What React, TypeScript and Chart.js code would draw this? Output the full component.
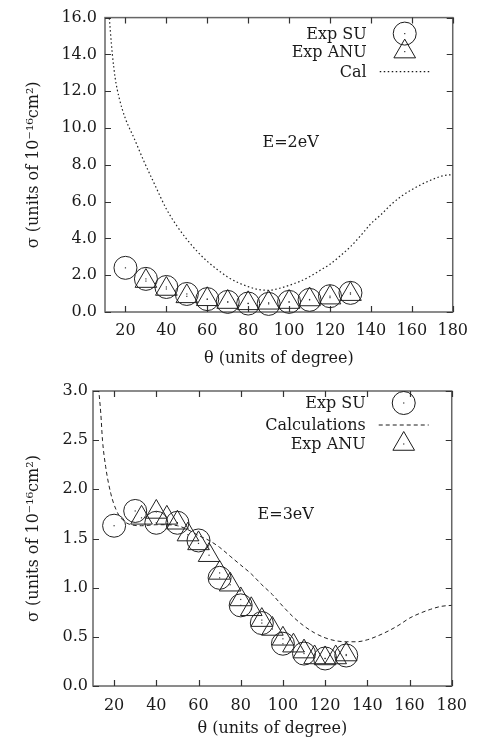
import React, { useEffect, useRef } from "react";
import { Chart, registerables } from "chart.js";

Chart.register(...registerables);

const FONT_FAMILY = "'DejaVu Serif', 'Liberation Serif', serif";
const INK = "#1a1a1a";
const FRAME = "#666666";

// ---------- Panel 1 : E=2eV ----------
const p1XTicks = [20, 40, 60, 80, 100, 120, 140, 160, 180];
const p1YTicks = [0, 2, 4, 6, 8, 10, 12, 14, 16];
const p1SuTheta = [20, 30, 40, 50, 60, 70, 80, 90, 100, 110, 120, 130];
const p1SuSigma = [2.4, 1.8, 1.36, 0.98, 0.7, 0.55, 0.46, 0.44, 0.55, 0.66, 0.86, 1.04];
const p1AnuTheta = [30, 40, 50, 60, 70, 80, 90, 100, 110, 120, 130];
const p1AnuSigma = [1.68, 1.25, 0.85, 0.69, 0.54, 0.47, 0.5, 0.54, 0.68, 0.78, 0.97];
const p1CalTheta = [11.8, 13.6, 15, 17, 20, 24, 29, 34, 40, 45, 50, 55, 60, 65, 70, 75, 80, 85, 90, 95, 100, 105, 110, 115, 120, 125, 130, 135, 140, 145, 150, 155, 160, 165, 170, 175, 180];
const p1CalSigma = [16.4, 14.0, 12.7, 11.6, 10.5, 9.5, 8.2, 7.0, 5.6, 4.7, 3.95, 3.3, 2.75, 2.3, 1.9, 1.6, 1.38, 1.22, 1.18, 1.28, 1.45, 1.65, 1.92, 2.25, 2.6, 3.05, 3.55, 4.15, 4.8, 5.3, 5.85, 6.3, 6.65, 6.95, 7.2, 7.4, 7.47];

// ---------- Panel 2 : E=3eV ----------
const p2XTicks = [20, 40, 60, 80, 100, 120, 140, 160, 180];
const p2YTicks = [0, 0.5, 1, 1.5, 2, 2.5, 3];
const p2SuTheta = [20, 30, 40, 50, 60, 70, 80, 90, 100, 110, 120, 130];
const p2SuSigma = [1.63, 1.78, 1.66, 1.66, 1.48, 1.1, 0.82, 0.64, 0.43, 0.33, 0.28, 0.31];
const p2AnuTheta = [33, 40, 45, 50, 55, 60, 65, 70, 75, 80, 85, 90, 95, 100, 105, 110, 115, 120, 125, 130];
const p2AnuSigma = [1.71, 1.77, 1.71, 1.66, 1.54, 1.45, 1.33, 1.15, 1.03, 0.88, 0.78, 0.67, 0.58, 0.48, 0.41, 0.35, 0.29, 0.28, 0.29, 0.32];
const p2CalTheta = [12.3, 13.7, 14.5, 16, 18.4, 21, 24, 28, 33, 40, 45, 50, 55, 60, 65, 70, 75, 80, 85, 90, 95, 100, 105, 110, 115, 120, 125, 130, 135, 140, 145, 150, 155, 160, 165, 170, 175, 180];
const p2CalSigma = [3.1, 2.77, 2.5, 2.23, 1.96, 1.79, 1.69, 1.64, 1.63, 1.64, 1.64, 1.63, 1.59, 1.53, 1.48, 1.41, 1.32, 1.23, 1.14, 1.03, 0.93, 0.81, 0.7, 0.61, 0.54, 0.49, 0.46, 0.45, 0.45, 0.47, 0.51, 0.56, 0.62, 0.69, 0.74, 0.78, 0.81, 0.82];

const X_TITLE = "θ (units of degree)";
const Y_TITLE = "σ (units of 10⁻¹⁶cm²)";

type LegendRow = { text: string; kind: "circle" | "triangle" | "line"; dy: number };

type PanelCfg = {
  width: number;
  height: number;
  xTicks: number[];
  yTicks: number[];
  yMax: number;
  suTheta: number[];
  suSigma: number[];
  anuTheta: number[];
  anuSigma: number[];
  calTheta: number[];
  calSigma: number[];
  calDash: number[];
  calWidth: number;
  legend: LegendRow[];
  label: string;
  labelX: number;
  labelY: number;
  yAxisWidth: number;
  xAxisHeight: number;
  padTop: number;
  padRight: number;
  yTickPad: number;
  xTickPad: number;
  xTitlePad: number;
  yTitlePad: number;
};

const FONT_SIZE = 16;
const CIRCLE_R = 11.5;
const TRI_R = 12.5;

function drawTriangle(ctx: CanvasRenderingContext2D, x: number, y: number, r: number) {
  ctx.beginPath();
  let a = 0;
  ctx.moveTo(x + Math.sin(a) * r, y - Math.cos(a) * r);
  a += (2 * Math.PI) / 3;
  ctx.lineTo(x + Math.sin(a) * r, y - Math.cos(a) * r);
  a += (2 * Math.PI) / 3;
  ctx.lineTo(x + Math.sin(a) * r, y - Math.cos(a) * r);
  ctx.closePath();
  ctx.stroke();
}

function makePlugin(cfg: PanelCfg) {
  return {
    id: "gnuplotFrame",
    beforeDatasetsDraw(chart: any) {
      const { ctx, chartArea: a, scales } = chart;
      const x = scales.x;
      const y = scales.y;
      ctx.save();
      ctx.strokeStyle = FRAME;
      ctx.lineWidth = 1.5;
      ctx.strokeRect(a.left, a.top, a.right - a.left, a.bottom - a.top);
      ctx.lineWidth = 1.2;
      ctx.strokeStyle = "#333";
      ctx.beginPath();
      for (const v of cfg.xTicks) {
        const px = Math.round(x.getPixelForValue(v)) + 0.5;
        ctx.moveTo(px, a.bottom);
        ctx.lineTo(px, a.bottom - 6);
        ctx.moveTo(px, a.top);
        ctx.lineTo(px, a.top + 6);
      }
      for (const v of cfg.yTicks) {
        const py = Math.round(y.getPixelForValue(v)) + 0.5;
        ctx.moveTo(a.left, py);
        ctx.lineTo(a.left + 6, py);
        ctx.moveTo(a.right, py);
        ctx.lineTo(a.right - 6, py);
      }
      ctx.stroke();
      ctx.restore();
    },
    afterDatasetsDraw(chart: any) {
      const { ctx } = chart;
      ctx.save();
      ctx.fillStyle = "#333";
      chart.data.datasets.forEach((ds: any, i: number) => {
        if (!ds.centerDot) return;
        chart.getDatasetMeta(i).data.forEach((pt: any) => {
          ctx.fillRect(pt.x - 0.6, pt.y - 0.6, 1.2, 1.2);
        });
      });
      ctx.restore();
    },
    afterDraw(chart: any) {
      const { ctx, chartArea: a, scales } = chart;
      ctx.save();
      ctx.font = `${FONT_SIZE}px ${FONT_FAMILY}`;
      ctx.fillStyle = INK;
      ctx.textBaseline = "middle";
      // annotation
      ctx.textAlign = "left";
      ctx.fillText(cfg.label, scales.x.getPixelForValue(cfg.labelX), scales.y.getPixelForValue(cfg.labelY));
      // legend
      const textRight = a.right - 86;
      const symX = a.right - 48;
      ctx.textAlign = "right";
      ctx.strokeStyle = INK;
      for (const row of cfg.legend) {
        const cy = a.top + row.dy;
        ctx.fillStyle = INK;
        ctx.fillText(row.text, textRight, cy + 1);
        ctx.lineWidth = 1;
        ctx.setLineDash([]);
        if (row.kind === "circle") {
          ctx.beginPath();
          ctx.arc(symX, cy, CIRCLE_R, 0, Math.PI * 2);
          ctx.stroke();
          ctx.fillStyle = "#333";
          ctx.fillRect(symX - 0.6, cy - 0.6, 1.2, 1.2);
        } else if (row.kind === "triangle") {
          drawTriangle(ctx, symX, cy, TRI_R);
          ctx.fillStyle = "#333";
          ctx.fillRect(symX - 0.6, cy - 0.6, 1.2, 1.2);
        } else {
          ctx.lineWidth = cfg.calWidth;
          ctx.setLineDash(cfg.calDash);
          ctx.beginPath();
          ctx.moveTo(symX - 25, cy);
          ctx.lineTo(symX + 25, cy);
          ctx.stroke();
          ctx.setLineDash([]);
        }
      }
      ctx.restore();
    },
  };
}

function Panel({ cfg }: { cfg: PanelCfg }) {
  const ref = useRef<HTMLCanvasElement | null>(null);
  useEffect(() => {
    if (!ref.current) return;
    const font = { family: FONT_FAMILY, size: FONT_SIZE };
    const chart = new Chart(ref.current, {
      type: "scatter",
      data: {
        datasets: [
          {
            label: "Cal",
            type: "line",
            data: cfg.calTheta.map((t, i) => ({ x: t, y: cfg.calSigma[i] })),
            borderColor: "#222",
            borderWidth: cfg.calWidth,
            borderDash: cfg.calDash,
            pointRadius: 0,
            fill: false,
            cubicInterpolationMode: "monotone",
          } as any,
          {
            label: "Exp SU",
            data: cfg.suTheta.map((t, i) => ({ x: t, y: cfg.suSigma[i] })),
            pointStyle: "circle",
            pointRadius: CIRCLE_R,
            borderColor: "#222",
            backgroundColor: "rgba(0,0,0,0)",
            borderWidth: 1,
            clip: false,
            centerDot: true,
          } as any,
          {
            label: "Exp ANU",
            data: cfg.anuTheta.map((t, i) => ({ x: t, y: cfg.anuSigma[i] })),
            pointStyle: "triangle",
            pointRadius: TRI_R,
            borderColor: "#222",
            backgroundColor: "rgba(0,0,0,0)",
            borderWidth: 1,
            clip: false,
            centerDot: true,
          } as any,
        ],
      },
      options: {
        animation: false,
        responsive: false,
        maintainAspectRatio: false,
        events: [],
        layout: { padding: { left: 0, right: cfg.padRight, top: cfg.padTop, bottom: 0 } },
        plugins: { legend: { display: false }, tooltip: { enabled: false }, title: { display: false } },
        scales: {
          x: {
            type: "linear",
            min: 10,
            max: 180,
            afterBuildTicks: (s: any) => {
              s.ticks = cfg.xTicks.map((v) => ({ value: v }));
            },
            afterFit: (s: any) => {
              s.height = cfg.xAxisHeight;
            },
            grid: { display: false, drawTicks: false },
            border: { display: false },
            ticks: {
              autoSkip: false,
              maxRotation: 0,
              padding: cfg.xTickPad,
              color: INK,
              font,
              callback: (v: any) => String(v),
            },
            title: { display: true, text: X_TITLE, color: INK, font, padding: { top: 0, bottom: cfg.xTitlePad } },
          },
          y: {
            type: "linear",
            min: 0,
            max: cfg.yMax,
            afterBuildTicks: (s: any) => {
              s.ticks = cfg.yTicks.map((v) => ({ value: v }));
            },
            afterFit: (s: any) => {
              s.width = cfg.yAxisWidth;
            },
            grid: { display: false, drawTicks: false },
            border: { display: false },
            ticks: {
              autoSkip: false,
              padding: cfg.yTickPad,
              color: INK,
              font,
              callback: (v: any) => Number(v).toFixed(1),
            },
            title: { display: true, text: Y_TITLE, color: INK, font, padding: { top: cfg.yTitlePad, bottom: 0 } },
          },
        },
      } as any,
      plugins: [makePlugin(cfg)],
    });
    return () => chart.destroy();
  }, [cfg]);
  return <canvas ref={ref} width={cfg.width} height={cfg.height} style={{ display: "block", width: cfg.width, height: cfg.height }} />;
}

const panel1: PanelCfg = {
  width: 477,
  height: 372,
  xTicks: p1XTicks,
  yTicks: p1YTicks,
  yMax: 16,
  suTheta: p1SuTheta,
  suSigma: p1SuSigma,
  anuTheta: p1AnuTheta,
  anuSigma: p1AnuSigma,
  calTheta: p1CalTheta,
  calSigma: p1CalSigma,
  calDash: [1.5, 2.5],
  calWidth: 1.2,
  legend: [
    { text: "Exp SU", kind: "circle", dy: 16 },
    { text: "Exp ANU", kind: "triangle", dy: 34 },
    { text: "Cal", kind: "line", dy: 54 },
  ],
  label: "E=2eV",
  labelX: 87,
  labelY: 9.2,
  yAxisWidth: 105,
  xAxisHeight: 60,
  padTop: 16,
  padRight: 24,
  yTickPad: 8,
  xTickPad: 9,
  xTitlePad: 4,
  yTitlePad: 24,
};

const panel2: PanelCfg = {
  width: 477,
  height: 375,
  xTicks: p2XTicks,
  yTicks: p2YTicks,
  yMax: 3,
  suTheta: p2SuTheta,
  suSigma: p2SuSigma,
  anuTheta: p2AnuTheta,
  anuSigma: p2AnuSigma,
  calTheta: p2CalTheta,
  calSigma: p2CalSigma,
  calDash: [4, 3],
  calWidth: 1,
  legend: [
    { text: "Exp SU", kind: "circle", dy: 12 },
    { text: "Calculations", kind: "line", dy: 34 },
    { text: "Exp ANU", kind: "triangle", dy: 53 },
  ],
  label: "E=3eV",
  labelX: 88,
  labelY: 1.74,
  yAxisWidth: 93,
  xAxisHeight: 61,
  padTop: 19,
  padRight: 24,
  yTickPad: 5,
  xTickPad: 10,
  xTitlePad: 9,
  yTitlePad: 24,
};

export default function App() {
  return (
    <div style={{ position: "fixed", left: 0, top: 0, width: 477, height: 747, background: "#fff" }}>
      <Panel cfg={panel1} />
      <Panel cfg={panel2} />
    </div>
  );
}
